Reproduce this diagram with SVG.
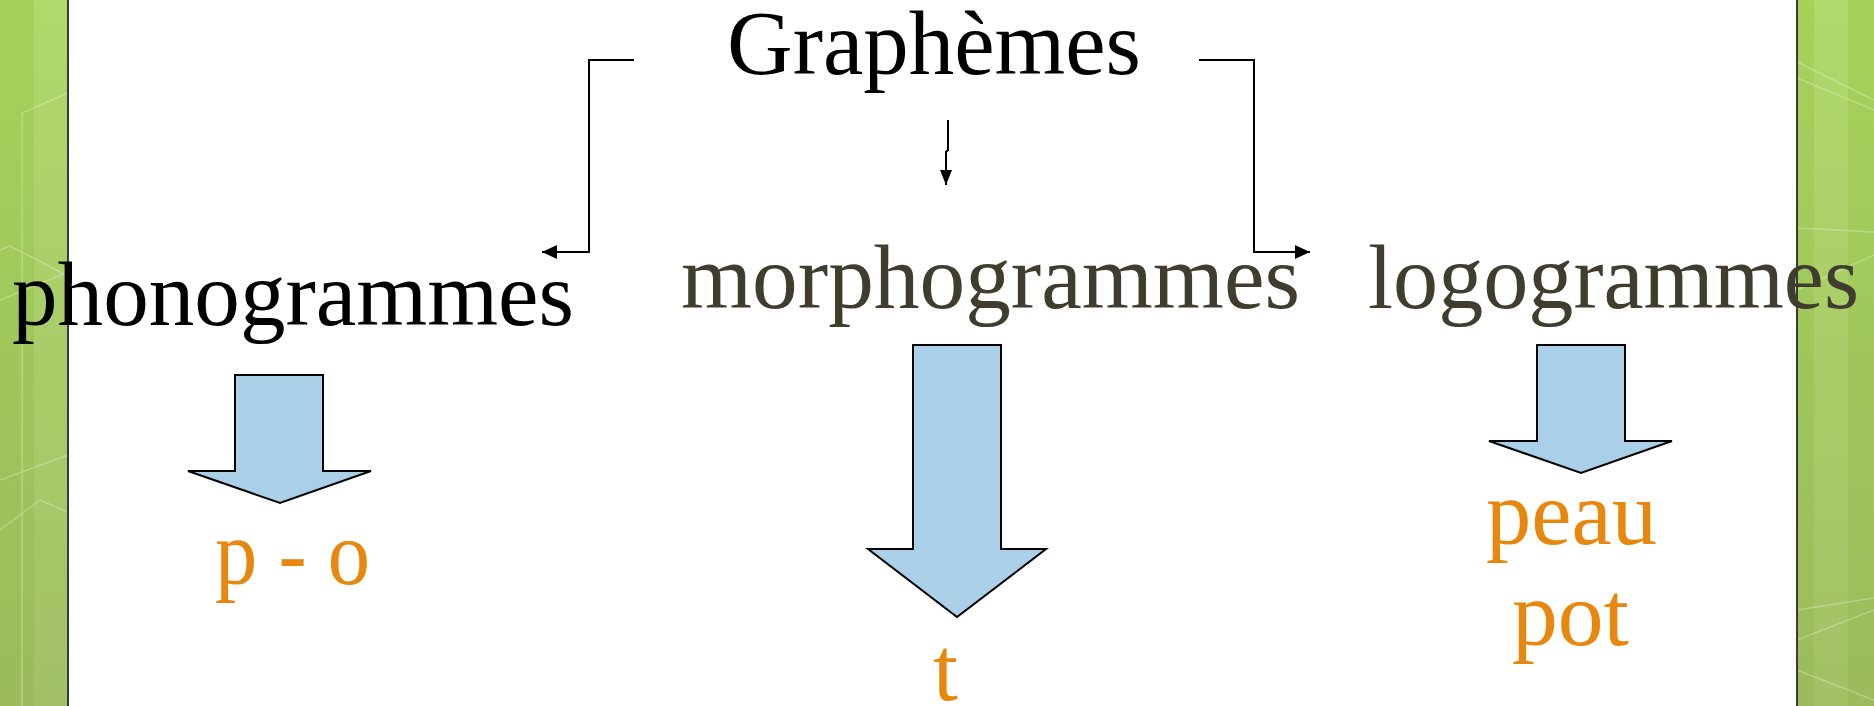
<svg xmlns="http://www.w3.org/2000/svg" width="1874" height="706" viewBox="0 0 1874 706">
  <defs>
    <linearGradient id="green" x1="0" y1="0" x2="0" y2="1">
      <stop offset="0" stop-color="#A6D25A"/>
      <stop offset="1" stop-color="#9BBB5C"/>
    </linearGradient>
    <linearGradient id="band" x1="0" y1="0" x2="0" y2="1">
      <stop offset="0" stop-color="#B5DB72"/>
      <stop offset="1" stop-color="#A5C46A"/>
    </linearGradient>
    <marker id="ah" markerWidth="16" markerHeight="16" refX="15" refY="8" orient="auto" markerUnits="userSpaceOnUse">
      <path d="M0,1 L15,8 L0,15 Z" fill="#000"/>
    </marker>
    <marker id="ahs" markerWidth="16" markerHeight="16" refX="15" refY="8" orient="auto" markerUnits="userSpaceOnUse">
      <path d="M0,2 L15,8 L0,14 Z" fill="#000"/>
    </marker>
  </defs>
  <style>
    .lbl { font-family: "Liberation Serif", "Times New Roman", serif; font-size: 90px; }
    .blk { fill: #000; }
    .olv { fill: #403D2E; }
    .org { fill: #E8870E; }
    .conn { fill: none; stroke: #000; stroke-width: 2; }
    .barrow { fill: #A9D0E6; stroke: #000; stroke-width: 2; stroke-linejoin: miter; }
    .deco { stroke: #FFFFFF; stroke-opacity: 0.28; stroke-width: 1.5; fill: none; }
  </style>

  <rect x="0" y="0" width="1874" height="706" fill="#FFFFFF"/>

  <g id="panel-left">
    <rect x="0" y="0" width="68" height="706" fill="url(#green)"/>
    <rect x="34" y="0" width="34" height="706" fill="url(#band)" opacity="0.7"/>
    <path class="deco" d="M22,706 V113 L68,93 M0,300 L68,272 M0,250 L10,246 L68,276 M0,480 L68,455 M0,530 L40,500 L68,512"/>
    <line x1="68" y1="0" x2="68" y2="706" stroke="#3A3A3A" stroke-width="2"/>
  </g>

  <g id="panel-right">
    <rect x="1797" y="0" width="77" height="706" fill="url(#green)"/>
    <rect x="1814" y="0" width="34" height="706" fill="url(#band)" opacity="0.7"/>
    <path class="deco" d="M1797,62 L1874,100 M1797,78 L1874,110 M1797,228 L1874,232 M1797,290 L1874,255 M1797,610 L1874,598 M1797,640 L1874,610 M1797,670 L1874,700"/>
    <line x1="1797" y1="0" x2="1797" y2="706" stroke="#3A3A3A" stroke-width="2"/>
  </g>

  <g id="connectors">
    <path class="conn" d="M634,60 H589 V252 H542" marker-end="url(#ah)"/>
    <path class="conn" d="M1199,60 H1254 V252 H1310" marker-end="url(#ah)"/>
    <path class="conn" d="M948,120 V150 L946,152 V185" marker-end="url(#ahs)"/>
  </g>

  <g id="node-graphemes">
    <text class="lbl blk" x="727" y="74" textLength="414" lengthAdjust="spacingAndGlyphs">Graphèmes</text>
  </g>

  <g id="node-phonogrammes">
    <text class="lbl blk" x="12" y="325" textLength="562" lengthAdjust="spacingAndGlyphs">phonogrammes</text>
    <polygon class="barrow" points="235,375 323,375 323,471 371,471 280,503 188,471 235,471"/>
    <text class="lbl org" x="215" y="584" textLength="155" lengthAdjust="spacingAndGlyphs">p - o</text>
  </g>

  <g id="node-morphogrammes">
    <text class="lbl olv" x="681" y="308" textLength="619" lengthAdjust="spacingAndGlyphs">morphogrammes</text>
    <polygon class="barrow" points="913,345 1001,345 1001,549 1046,549 957,617 868,549 913,549"/>
    <text class="lbl org" x="933" y="700">t</text>
  </g>

  <g id="node-logogrammes">
    <text class="lbl olv" x="1368" y="308" textLength="491" lengthAdjust="spacingAndGlyphs">logogrammes</text>
    <polygon class="barrow" points="1537,345 1625,345 1625,441 1672,441 1581,473 1489,441 1537,441"/>
    <text class="lbl org" x="1486" y="544" textLength="171" lengthAdjust="spacingAndGlyphs">peau</text>
    <text class="lbl org" x="1512" y="645" textLength="117" lengthAdjust="spacingAndGlyphs">pot</text>
  </g>
</svg>
